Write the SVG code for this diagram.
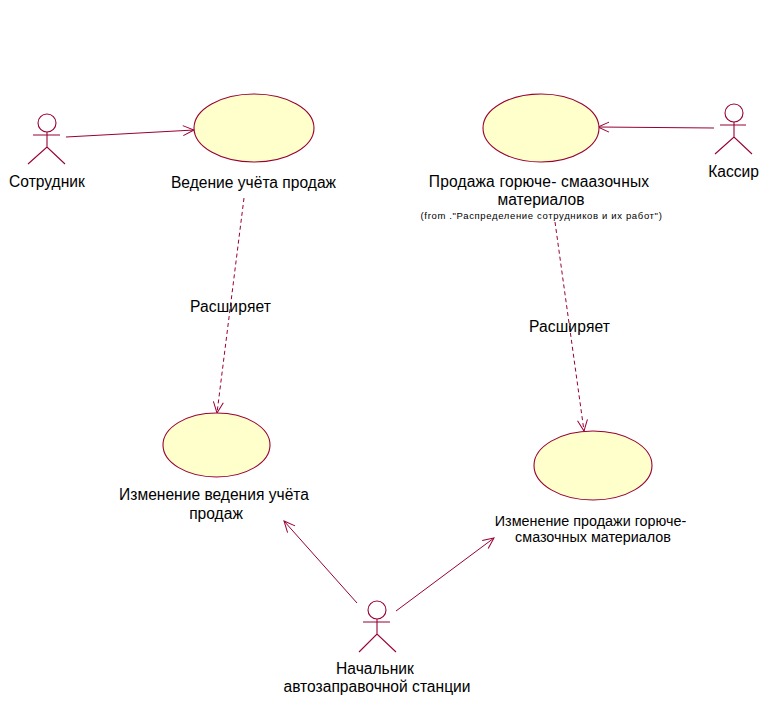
<svg xmlns="http://www.w3.org/2000/svg" width="765" height="726" viewBox="0 0 765 726">
<style>
text{font-family:"Liberation Sans",Arial,sans-serif;font-size:15.6px;fill:#000;text-anchor:middle}
.small{font-size:9.5px;letter-spacing:.65px}
.mid{font-size:14.35px}
.wide{letter-spacing:.15px}
.uc{fill:#ffffcc;stroke:#990033;stroke-width:1.1}
.actor{fill:none;stroke:#990033;stroke-width:1.1}
.head{fill:#fff;stroke:#990033;stroke-width:1.1}
.c{fill:none;stroke:#990033;stroke-width:1}
.d{stroke-dasharray:4 3}
</style>
<defs>
<marker id="open" markerUnits="userSpaceOnUse" markerWidth="16" markerHeight="14" refX="14" refY="7" orient="auto">
<path d="M3 2L14 7L3 12" fill="none" stroke="#990033" stroke-width="1"/>
</marker>
</defs>
<rect width="765" height="726" fill="#fff"/>
<g id="connectors">
<path class="c" marker-end="url(#open)" d="M66 137L194 130"/>
<path class="c" marker-end="url(#open)" d="M714 128L598 127"/>
<path class="c d" marker-end="url(#open)" d="M244 198L217 413"/>
<path class="c d" marker-end="url(#open)" d="M555 222L584 431"/>
<path class="c" marker-end="url(#open)" d="M357 603L284 521"/>
<path class="c" marker-end="url(#open)" d="M396 611L494 538"/>
</g>
<g id="actor-sotrudnik">
<circle class="head" cx="47" cy="123" r="9"/>
<path class="actor" d="M33 135H60M47 132V147M28 164L47 147L65 164"/>
<text x="47" y="187">Сотрудник</text>
</g>
<g id="uc-vedenie">
<ellipse class="uc" cx="254" cy="128" rx="60" ry="34"/>
<text x="253.500" y="188">Ведение учёта продаж</text>
</g>
<g id="uc-prodazha">
<ellipse class="uc" cx="541" cy="128" rx="58" ry="34"/>
<text class="wide" x="539" y="187">Продажа горюче- смаазочных</text>
<text x="541" y="205">материалов</text>
<text class="small" x="541.500" y="219">(from ."Распределение сотрудников и их работ")</text>
</g>
<g id="actor-kassir">
<circle class="head" cx="734" cy="113" r="9"/>
<path class="actor" d="M720 125H746M734 122V137M715 154L734 137L752 154"/>
<text x="733.500" y="177">Кассир</text>
</g>
<g id="uc-izm-vedenie">
<ellipse class="uc" cx="216.500" cy="445" rx="53.500" ry="32"/>
<text x="214" y="500">Изменение ведения учёта</text>
<text x="216" y="519">продаж</text>
</g>
<g id="uc-izm-prodazha">
<ellipse class="uc" cx="593" cy="465.500" rx="59" ry="34.500"/>
<text class="mid" x="590.500" y="526">Изменение продажи горюче-</text>
<text class="mid" x="593" y="542">смазочных материалов</text>
</g>
<g id="actor-nachalnik">
<circle class="head" cx="377" cy="610" r="9"/>
<path class="actor" d="M363 622H390M377 619V634M359 652L377 634L396 652"/>
<text x="375" y="674">Начальник</text>
<text x="377" y="692">автозаправочной станции</text>
</g>
<g id="labels">
<text class="wide" x="230.500" y="312">Расширяет</text>
<text class="wide" x="569.500" y="332">Расширяет</text>
</g>
</svg>
